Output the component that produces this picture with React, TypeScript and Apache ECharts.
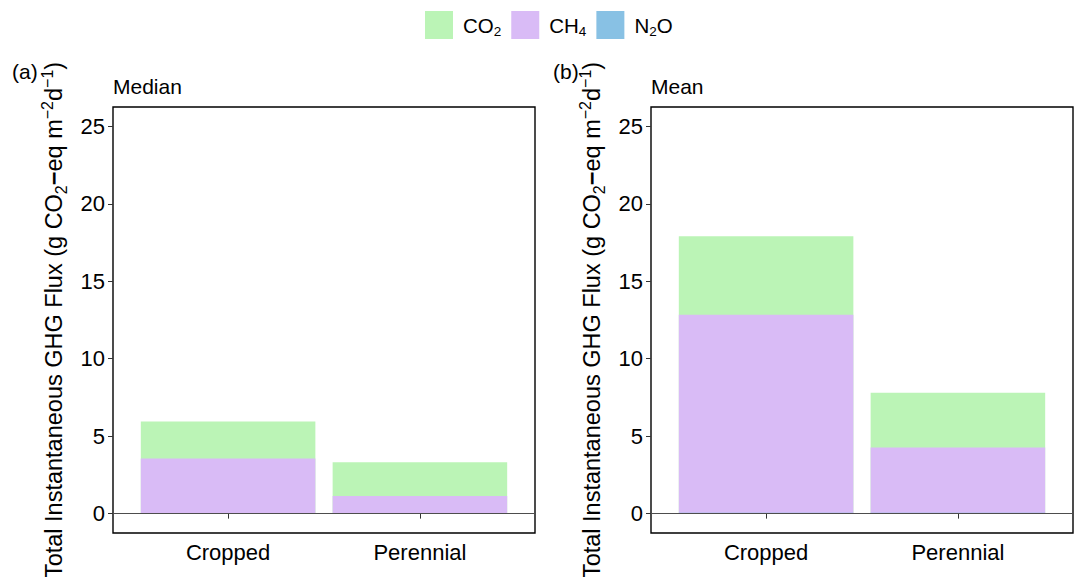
import React, { useEffect, useRef } from "react";
import * as echarts from "echarts";

const categories = ["Cropped", "Perennial"];
const gasNames = ["CO2", "CH4", "N2O"];
const medianN2O = [0.03, 0.02];
const medianCH4 = [3.53, 1.12];
const medianCO2 = [2.39, 2.18];
const meanN2O = [0.05, 0.05];
const meanCH4 = [12.79, 4.22];
const meanCO2 = [5.06, 3.53];
const yTicks = [0, 5, 10, 15, 20, 25];
const panelLetters = ["(a)", "(b)"];
const panelTitles = ["Median", "Mean"];

const colors: Record<string, string> = {
  CO2: "#bbf4b6",
  CH4: "#d9bbf6",
  N2O: "#88c1e4",
};

const FONT = "Liberation Sans, Arial, Helvetica, sans-serif";

const gasLabel: Record<string, string> = {
  CO2: "CO{sub|2}",
  CH4: "CH{sub|4}",
  N2O: "N{sub|2}O",
};

export default function App() {
  const ref = useRef<HTMLDivElement>(null);
  useEffect(() => {
    if (!ref.current) return;
    const chart = echarts.init(ref.current, null, { renderer: "svg" });
    const grids = [
      { left: 113, top: 107, width: 422, height: 426 },
      { left: 651, top: 107, width: 422, height: 426 },
    ];
    const catPos = categories.map((_, i) => i + 1);
    const yName =
      "Total Instantaneous GHG Flux (g CO{sub|2}{b|−}eq m{sup|−2}d{sup|−1})";
    const yRich = {
      sub: { fontSize: 16, lineHeight: 16, verticalAlign: "bottom", fontFamily: FONT, color: "#000" },
      sup: { fontSize: 16, lineHeight: 16, verticalAlign: "top", fontFamily: FONT, color: "#000" },
      b: { fontSize: 23.5, lineHeight: 30, fontFamily: FONT, color: "#000", fontWeight: "bold" },
    };
    // stacked from bottom: N2O, CH4, CO2 -> drawn as overlapping cumulative bars
    const makeSeries = (idx: number, n2o: number[], ch4: number[], co2: number[]) => {
      const cumN2O = n2o.map((v) => v);
      const cumCH4 = ch4.map((v, k) => v + n2o[k]);
      const cumCO2 = co2.map((v, k) => v + ch4[k] + n2o[k]);
      const layers: [string, number[]][] = [
        ["CO2", cumCO2],
        ["CH4", cumCH4],
        ["N2O", cumN2O],
      ];
      return layers.map(([g, vals], i) => ({
        name: g,
        type: "bar",
        xAxisIndex: idx,
        yAxisIndex: idx,
        barWidth: "91%",
        barGap: "-100%",
        z: 2 + i,
        itemStyle: { color: colors[g] },
        data: vals.map((v, k) => [catPos[k], v]),
        silent: true,
        markLine:
          i === 2
            ? {
                silent: true,
                symbol: "none",
                label: { show: false },
                lineStyle: { color: "#4d4d4d", width: 1, type: "solid" },
                data: [{ yAxis: 0 }],
                z: 10,
              }
            : undefined,
      }));
    };
    const option: any = {
      animation: false,
      textStyle: { fontFamily: FONT },
      legend: {
        data: gasNames,
        top: 6,
        left: 420,
        itemWidth: 28,
        itemHeight: 28,
        itemGap: 10,
        icon: "rect",
        formatter: (n: string) => gasLabel[n],
        textStyle: {
          fontFamily: FONT,
          fontSize: 20.5,
          color: "#000",
          lineHeight: 26,
          padding: [0, 0, 0, 5],
          rich: {
            sub: { fontSize: 13.5, lineHeight: 13, verticalAlign: "bottom", fontFamily: FONT, color: "#000" },
          },
        },
      },
      grid: grids.map((g) => ({
        ...g,
        show: true,
        borderColor: "#000",
        borderWidth: 1.4,
        containLabel: false,
        outerBoundsMode: "none",
      })),
      xAxis: grids.map((_, i) => ({
        type: "value",
        gridIndex: i,
        min: 0.4,
        max: 2.6,
        splitLine: { show: false },
        axisLine: { show: false },
        axisTick: { show: true, length: 5, customValues: catPos, lineStyle: { color: "#333" } },
        axisLabel: {
          color: "#000",
          fontSize: 22,
          margin: 8,
          fontFamily: FONT,
          customValues: catPos,
          formatter: (v: number) => categories[Math.round(v) - 1] ?? "",
        },
      })),
      yAxis: grids.map((_, i) => ({
        type: "value",
        gridIndex: i,
        min: -1.25,
        max: 26.25,
        splitLine: { show: false },
        axisLine: { show: false },
        axisTick: { show: true, length: 5, customValues: yTicks, lineStyle: { color: "#333" } },
        axisLabel: { color: "#000", fontSize: 22, margin: 8, customValues: yTicks, fontFamily: FONT },
        name: yName,
        nameLocation: "middle",
        nameRotate: 90,
        nameGap: 44,
        nameTextStyle: { fontSize: 23.5, lineHeight: 30, color: "#000", fontFamily: FONT, rich: yRich },
      })),
      graphic: [0, 1].flatMap((i) => [
        {
          type: "text",
          x: i === 0 ? 12 : 553,
          y: 71,
          style: { text: panelLetters[i], fontSize: 21, fill: "#000", fontFamily: FONT, verticalAlign: "middle", align: "left" },
        },
        {
          type: "text",
          x: grids[i].left,
          y: 86,
          style: { text: panelTitles[i], fontSize: 21, fill: "#000", fontFamily: FONT, verticalAlign: "middle", align: "left" },
        },
      ]),
      series: [
        ...makeSeries(0, medianN2O, medianCH4, medianCO2),
        ...makeSeries(1, meanN2O, meanCH4, meanCO2),
      ],
    };
    chart.setOption(option);
    return () => chart.dispose();
  }, []);
  return (
    <div
      ref={ref}
      style={{ position: "fixed", left: 0, top: 0, width: 1078, height: 577, background: "#fff" }}
    />
  );
}
